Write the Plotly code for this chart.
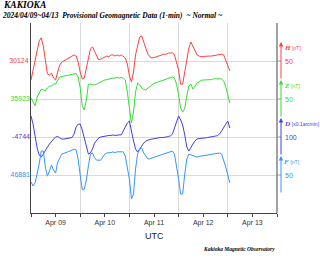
import pandas as pd
import plotly.graph_objects as go

# Hourly readings, 2024-04-09 00:00 UTC onward
times = pd.date_range("2024-04-09 00:00", periods=98, freq="h")

H = [30074, 30100, 30127, 30158, 30177, 30185, 30163, 30127, 30090, 30087,
     30092, 30079, 30074, 30095, 30113, 30121, 30124, 30128, 30132, 30133,
     30137, 30140, 30137, 30121, 30095, 30077, 30079, 30103, 30132, 30156,
     30161, 30148, 30135, 30127, 30129, 30132, 30135, 30137, 30135, 30140,
     30140, 30137, 30140, 30137, 30140, 30137, 30132, 30116, 30085, 30069,
     30095, 30140, 30166, 30187, 30190, 30174, 30158, 30142, 30135, 30132,
     30133, 30135, 30135, 30137, 30140, 30142, 30142, 30145, 30145, 30146,
     30140, 30121, 30100, 30063, 30063, 30095, 30132, 30158, 30174, 30163,
     30148, 30140, 30137, 30135, 30136, 30137, 30137, 30137, 30137, 30138,
     30140, 30140, 30141, 30142, 30140, 30127, 30113, 30098]

Z = [35926, 35915, 35905, 35928, 35941, 35949, 35947, 35944, 35952, 35957,
     35957, 35962, 35962, 35973, 35981, 35982, 35983, 35985, 35986, 35987,
     35989, 35990, 35990, 35981, 35952, 35905, 35894, 35920, 35962, 35962,
     35961, 35960, 35962, 35965, 35968, 35970, 35973, 35974, 35976, 35977,
     35978, 35978, 35980, 35978, 35980, 35978, 35973, 35941, 35894, 35860,
     35889, 35941, 35965, 35960, 35952, 35948, 35947, 35952, 35957, 35960,
     35964, 35966, 35969, 35970, 35972, 35973, 35976, 35977, 35980, 35981,
     35978, 35962, 35934, 35899, 35889, 35897, 35931, 35957, 35962, 35949,
     35957, 35965, 35968, 35972, 35973, 35973, 35974, 35974, 35974, 35976,
     35976, 35976, 35977, 35976, 35970, 35955, 35934, 35912]

D = [-4633, -4676, -4739, -4802, -4839, -4849, -4834, -4812, -4797, -4781,
     -4765, -4755, -4744, -4741, -4749, -4755, -4755, -4752, -4752, -4749,
     -4747, -4728, -4691, -4676, -4676, -4707, -4755, -4802, -4834, -4828,
     -4807, -4776, -4760, -4749, -4744, -4741, -4739, -4739, -4736, -4736,
     -4733, -4736, -4733, -4733, -4733, -4712, -4691, -4670, -4660, -4723,
     -4765, -4807, -4823, -4807, -4789, -4776, -4765, -4760, -4757, -4755,
     -4752, -4749, -4749, -4747, -4747, -4747, -4744, -4741, -4739, -4728,
     -4697, -4660, -4633, -4654, -4681, -4733, -4797, -4818, -4797, -4781,
     -4765, -4755, -4752, -4752, -4752, -4749, -4747, -4744, -4744, -4741,
     -4739, -4737, -4728, -4712, -4691, -4676, -4660, -4697]

F = [46863, 46852, 46860, 46884, 46910, 46944, 46944, 46902, 46878, 46892,
     46907, 46894, 46886, 46915, 46928, 46936, 46938, 46939, 46942, 46944,
     46947, 46949, 46947, 46923, 46881, 46842, 46844, 46868, 46905, 46936,
     46939, 46926, 46920, 46919, 46920, 46928, 46936, 46939, 46939, 46940,
     46942, 46940, 46942, 46942, 46943, 46942, 46931, 46902, 46870, 46818,
     46831, 46897, 46936, 46949, 46952, 46939, 46931, 46923, 46924, 46926,
     46927, 46928, 46931, 46932, 46934, 46936, 46939, 46942, 46944, 46944,
     46936, 46905, 46870, 46831, 46831, 46884, 46923, 46936, 46934, 46930,
     46928, 46928, 46930, 46931, 46931, 46932, 46934, 46935, 46936, 46938,
     46939, 46940, 46939, 46936, 46920, 46902, 46881, 46860]

names = ["H", "Z", "D", "F"]
bases = [30124, 35923, -4744, 46881]
units = ["[nT]", "[nT]", "[x0.1arcmin]", "[nT]"]
scale_labels = ["50", "50", "100", "50"]
scale_half = [50, 50, 100, 50]
colors = ["rgb(255,64,64)", "rgb(51,222,51)", "rgb(64,64,228)", "rgb(51,150,255)"]
series = [H, Z, D, F]

# axis windows: (below base, above base)
windows = [(400, 100), (300, 200), (400, 600), (100, 400)]

fig = go.Figure()
axis_ids = ["y", "y2", "y3", "y4"]
for i, (nm, vals, col) in enumerate(zip(names, series, colors)):
    fig.add_trace(go.Scatter(x=times, y=vals, mode="lines", name=nm,
                             line=dict(color=col, width=1),
                             yaxis=axis_ids[i], showlegend=False))

W, Hh = 320, 261
ml, mr, mt, mb = 31, 43, 23, 48
pw = W - ml - mr
ph = Hh - mt - mb

layout_axes = {}
for i in range(4):
    key = "yaxis" if i == 0 else f"yaxis{i+1}"
    lo = bases[i] - windows[i][0]
    hi = bases[i] + windows[i][1]
    ax = dict(range=[lo, hi], tickmode="array", tickvals=[bases[i]],
              ticktext=[str(bases[i])], showgrid=True, gridcolor="#d9d9d9",
              gridwidth=1, zeroline=False, ticks="", side="left",
              tickfont=dict(size=7, color=colors[i], family="Liberation Sans"),
              fixedrange=True)
    if i == 0:
        ax.update(showline=True, linecolor="#444", linewidth=1)
    else:
        ax.update(overlaying="y", showline=False)
    layout_axes[key] = ax

annotations = []
shapes = [dict(type="line", xref="paper", yref="paper", x0=1, x1=1, y0=0, y1=1,
               line=dict(color="#444", width=1))]
xbar = 1 + 4 / pw
for i in range(4):
    yref = axis_ids[i]
    b = bases[i]
    hs = scale_half[i]
    span = windows[i][0] + windows[i][1]
    px_per_unit = ph / span
    annotations.append(dict(xref="paper", yref=yref, x=xbar, y=b + hs,
                            ax=0, ay=round(2 * hs * px_per_unit), axref="pixel", ayref="pixel",
                            showarrow=True, arrowhead=2, arrowsize=0.9, arrowwidth=1,
                            arrowcolor=colors[i], text=""))
    shapes.append(dict(type="line", xref="paper", yref=yref, x0=1, x1=xbar,
                       y0=b, y1=b, line=dict(color="#999", width=1)))
    annotations.append(dict(xref="paper", yref=yref, x=1 + 6 / pw, y=b,
                            xanchor="left", yanchor="middle", showarrow=False,
                            text=scale_labels[i],
                            font=dict(size=7, color=colors[i], family="Liberation Sans")))
    annotations.append(dict(xref="paper", yref=yref, x=1 + 5 / pw,
                            y=b + 13 / px_per_unit,
                            xanchor="left", yanchor="middle", showarrow=False,
                            text=f"<b><i>{names[i]}</i></b> <span style='font-size:5px;font-family:Liberation Sans;font-weight:normal;font-style:normal'>{units[i]}</span>",
                            font=dict(size=7, color=colors[i], family="Liberation Serif")))

annotations += [
    dict(xref="paper", yref="paper", x=(1 - ml) / pw, y=(Hh - mb - 5) / ph,
         xanchor="left", yanchor="middle", showarrow=False,
         text="<b><i>KAKIOKA</i></b>",
         font=dict(size=9.5, color="#000", family="Liberation Serif")),
    dict(xref="paper", yref="paper", x=(0 - ml) / pw, y=(Hh - mb - 15.5) / ph,
         xanchor="left", yanchor="middle", showarrow=False,
         text="<b><i>2024/04/09~04/13  Provisional Geomagnetic Data (1-min)  ~ Normal ~</i></b>",
         font=dict(size=7.5, color="#000", family="Liberation Serif")),
    dict(xref="paper", yref="paper", x=0.5, y=(Hh - mb - 236) / ph,
         xanchor="center", yanchor="middle", showarrow=False, text="UTC",
         font=dict(size=9, color="#222", family="Liberation Sans")),
    dict(xref="paper", yref="paper", x=1.0, y=(Hh - mb - 249) / ph,
         xanchor="right", yanchor="middle", showarrow=False,
         text="<b><i>Kakioka Magnetic Observatory</i></b>",
         font=dict(size=5.5, color="#000", family="Liberation Serif")),
]

fig.update_layout(
    width=W, height=Hh, margin=dict(l=ml, r=mr, t=mt, b=mb, pad=0),
    paper_bgcolor="white", plot_bgcolor="white", template="none",
    xaxis=dict(type="date", range=["2024-04-09", "2024-04-14"],
               dtick=86400000, tick0="2024-04-09", tickformat="%b %d",
               ticklabelmode="period", showgrid=True, gridcolor="#d9d9d9",
               ticks="outside", ticklen=3, tickcolor="#444",
               showline=True, linecolor="#444", linewidth=1, zeroline=False,
               minor=dict(dtick=43200000, ticks="outside", ticklen=3,
                          tickcolor="#444", showgrid=False),
               tickfont=dict(size=7, color="#333", family="Liberation Sans"),
               fixedrange=True),
    annotations=annotations, shapes=shapes, showlegend=False,
    **layout_axes,
)

fig.write_html("out.html")
